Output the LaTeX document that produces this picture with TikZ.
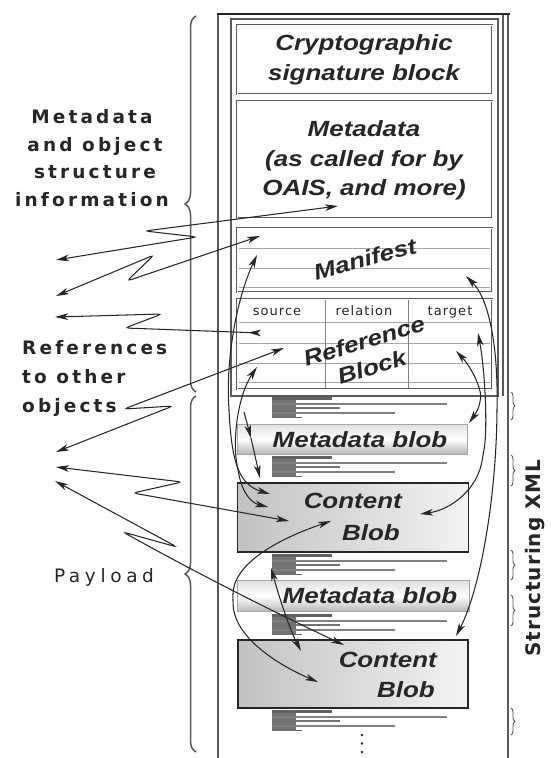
\documentclass[tikz,border=0pt]{standalone}
\usepackage{fontspec}
\usetikzlibrary{arrows.meta,decorations.pathreplacing}
\newfontfamily\boxfont[FakeStretch=1.18]{Liberation Sans}
\newfontfamily\labfont[LetterSpace=17]{DejaVu Sans}
\newfontfamily\payfont[LetterSpace=25]{DejaVu Sans}
\newfontfamily\hdrfont[LetterSpace=8]{DejaVu Sans}
\newfontfamily\sxfont[LetterSpace=5]{DejaVu Sans}
\definecolor{ink}{HTML}{262626}
\definecolor{frm}{HTML}{5A5A5A}
\begin{document}
\begin{tikzpicture}[x=1pt,y=-1pt,
  dart/.tip={Stealth[length=13pt,width=6.6pt,inset=3.5pt]},
  rdart/.tip={Stealth[length=13pt,width=6.6pt,inset=3.5pt,reversed]},
  arr/.style={draw=ink, line width=1.05pt, rounded corners=4pt, dart-dart},
  arrone/.style={draw=ink, line width=1.05pt, -dart},
  blk/.style={draw=frm, line width=2.8pt, outer sep=0pt, inner sep=0pt},
  blkin/.style={draw=white, line width=0.9pt},
  rule/.style={draw=black!35, line width=0.8pt},
  boxtxt/.style={font=\boxfont\bfseries\itshape\fontsize{22}{30}\selectfont, text=ink, inner sep=0pt, anchor=base},
  lab/.style={font=\labfont\bfseries\fontsize{18.5}{28}\selectfont, text=ink, inner sep=0pt, anchor=base},
  hdr/.style={font=\hdrfont\fontsize{13}{15}\selectfont, text=ink, inner sep=0pt, anchor=base},
  mblob/.style={draw=black!35, line width=0.8pt, top color=black!12, bottom color=black!28, middle color=white, inner sep=0pt},
  cblob/.style={draw=ink, line width=1.5pt, left color=black!24, right color=black!5, inner sep=0pt},
  bigbrace/.style={draw=frm, line width=1.5pt, decorate, decoration={brace, amplitude=11pt}},
  smallbrace/.style={draw=frm, line width=0.9pt, decorate, decoration={brace, amplitude=4pt}},
  xmlbars/.pic={
    \fill[black!55] (0,0) rectangle (24,21);
    \fill[black!62] (0,0) rectangle (60,2.8);
    \draw[black!50, line width=2pt] (0,7) -- (175,7);
    \draw[black!55, line width=1.6pt] (0,11) -- (68,11);
    \draw[black!50, line width=2pt] (0,16) -- (123,16);
    \draw[black!58, line width=1.6pt] (0,20.5) -- (30,20.5);
  }]
\useasboundingbox (0,0) rectangle (550,758);
\fill[white] (0,0) rectangle (550,758);

% ---- outer frame ----
\draw[frm, line width=1.6pt] (218,14) -- (218,758);
\draw[frm, line width=1.8pt] (508,14) -- (508,758);
\draw[frm, line width=1.2pt] (503,14) -- (503,396);
\draw[ink, line width=2.6pt] (217,14) -- (509.5,14);
\draw[frm, line width=1.4pt] (231,19) rectangle (498,396);

% ---- upper blocks ----
\node[blk, minimum width=255pt, minimum height=69pt] (crypto) at (364.5,59.5) {};
\node[blk, minimum width=255pt, minimum height=117pt] (meta) at (364.5,159.5) {};
\node[blk, minimum width=255pt, minimum height=64pt] (manifest) at (364.5,260) {};
\node[blk, minimum width=255pt, minimum height=90pt] (refblk) at (364.5,344) {};
\foreach \b in {crypto,meta,manifest,refblk}
  \draw[blkin] (\b.south west) rectangle (\b.north east);
\foreach \yy in {248,268,287} \draw[rule] (239,\yy) -- (490,\yy);
\foreach \yy in {322,343,363,382} \draw[rule] (239,\yy) -- (490,\yy);
\draw[rule, draw=black!50] (325,300) -- (325,388);
\draw[rule, draw=black!50] (408,300) -- (408,388);

% ---- XML bars ----
\pic at (272,397) {xmlbars};
\pic at (272,456) {xmlbars};
\pic at (272,554) {xmlbars};
\pic at (272,614) {xmlbars};
\pic at (272,710) {xmlbars};

% ---- blobs ----
\node[mblob, minimum width=230pt, minimum height=30pt] (mb1) at (352.5,439) {};
\node[cblob, minimum width=231pt, minimum height=69pt] (cb1) at (353,517.5) {};
\node[mblob, minimum width=232pt, minimum height=31pt] (mb2) at (353.5,596) {};
\node[cblob, minimum width=230pt, minimum height=68pt] (cb2) at (353,674) {};
\foreach \yy in {735,743.5,752} \fill[ink] (362,\yy) circle (1.3pt);

% ---- braces ----
\draw[bigbrace] (196,392) -- (196,16);
\draw[bigbrace] (196,752) -- (196,396);
\draw[smallbrace] (511,392) -- (511,420);
\draw[smallbrace] (511,455) -- (511,486);
\draw[smallbrace] (511,550) -- (511,580);
\draw[smallbrace] (511,595) -- (511,626);
\draw[smallbrace] (511,708) -- (511,735);

% ---- end points ----
\coordinate (l1) at (56,260);  \coordinate (r1) at (338,206);
\coordinate (l2) at (56,296);  \coordinate (r2) at (260,236);
\coordinate (l3) at (55,317);  \coordinate (r3) at (261,333);
\coordinate (l4) at (56,452);  \coordinate (r4) at (284,348);
\coordinate (l5) at (56,467);  \coordinate (r5) at (289,521);
\coordinate (l6) at (55,481);  \coordinate (r6) at (344,645);

% ---- outward references ----
\draw[arr] (l1) -- (197,237) -- (145,231) -- (r1);
\draw[arr] (l2) -- (154,255) -- (127,281) -- (r2);
\draw[draw=ink, line width=1.05pt, rounded corners=4pt, dart-rdart] (l3) -- (162,314) -- (125,328) -- (r3);
\draw[arr] (l4) -- (173,406) -- (124,409) -- (r4);
\draw[arr] (l5) -- (182,482) -- (133,493) -- (r5);
\draw[arr] (l6) -- (177,547) -- (123,532) .. controls (200,575) and (280,615) .. (r6);

% ---- internal references ----
\draw[arr] (257,255) .. controls (236,300) and (226,360) .. (229,410) .. controls (232,465) and (240,485) .. (270,494);
\draw[arr] (257,367) .. controls (238,395) and (232,440) .. (238,470) .. controls (243,495) and (252,503) .. (268,507);
\draw[arr] (466,276) .. controls (490,300) and (498,350) .. (497,410) .. controls (496,500) and (480,590) .. (456,636);
\draw[arr] (456,351) .. controls (472,368) and (482,390) .. (480,402) .. controls (478,410) and (474,416) .. (469,423);
\draw[arr] (478,333) .. controls (485,370) and (488,430) .. (483,455) .. controls (478,490) and (450,510) .. (420,514);
\draw[arr] (271,568) .. controls (280,600) and (290,630) .. (301,651);
\draw[arr] (331,521) .. controls (275,540) and (232,565) .. (233,600) .. controls (234,640) and (285,668) .. (318,682);
\draw[arrone] (244,412) -- (251,438);
\draw[arrone] (251,438) -- (260,478);

% ---- texts in blocks ----
\node[boxtxt] (t1) at (364,50) {Cryptographic};
\node[boxtxt] (t2) at (364,80) {signature block};
\node[boxtxt] (t3) at (364,136) {Metadata};
\node[boxtxt] (t4) at (364,166) {(as called for by};
\node[boxtxt] (t5) at (364,195) {OAIS, and more)};
\node[boxtxt, anchor=center, rotate=15] (t6) at (365,259) {Manifest};
\node[boxtxt, anchor=center, rotate=17, align=center, font=\boxfont\bfseries\itshape\fontsize{22}{27}\selectfont] (t7) at (368,354) {Reference\\Block};
\node[hdr] (h1) at (277,315) {source};
\node[hdr] (h2) at (364,315) {relation};
\node[hdr] (h3) at (450,315) {target};
\node[boxtxt] (t9) at (360,447) {Metadata blob};
\node[boxtxt, anchor=base east] (t10) at (402,508) {Content};
\node[boxtxt, anchor=base east] (t11) at (400,540) {Blob};
\node[boxtxt] (t12) at (370,603) {Metadata blob};
\node[boxtxt, anchor=base east] (t13) at (437,667) {Content};
\node[boxtxt, anchor=base east] (t14) at (435,697) {Blob};

% ---- side labels ----
\node[lab] (m1) at (92,123) {Metadata};
\node[lab] (m2) at (95,151) {and object};
\node[lab] (m3) at (95,178) {structure};
\node[lab] (m4) at (92,206) {information};
\node[lab, anchor=base west] (o1) at (22,354) {References};
\node[lab, anchor=base west] (o2) at (22,383) {to other};
\node[lab, anchor=base west] (o3) at (22,412) {objects};
\node[font=\payfont\fontsize{18.5}{24}\selectfont, text=ink, inner sep=0pt, anchor=base] (p1) at (104,582) {Payload};
\node[font=\sxfont\bfseries\fontsize{20}{24}\selectfont, text=ink, inner sep=0pt, rotate=90] (sx) at (535,558) {Structuring XML};
\end{tikzpicture}
\end{document}
